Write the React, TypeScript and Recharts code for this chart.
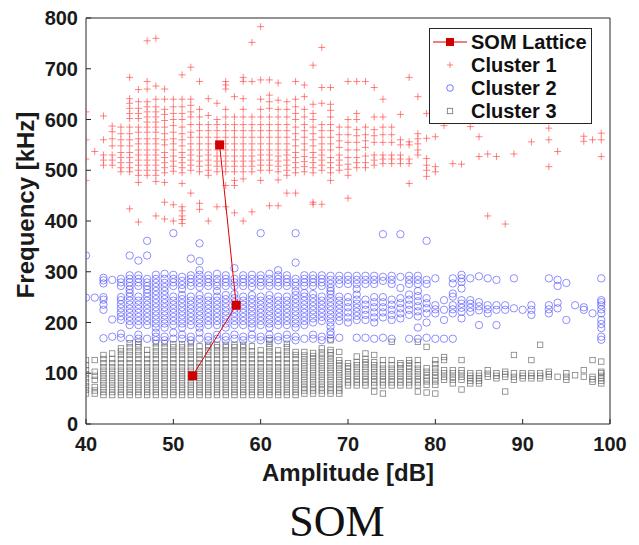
import React from "react";
import {
  ScatterChart,
  Scatter,
  XAxis,
  YAxis,
  Legend,
  Label,
} from "recharts";

type Column = [number, number[]];

// amplitude [dB] -> frequencies [kHz]
const cluster1Cols: Column[] = [
  [40, [480, 522, 560, 615]],
  [41, [537]],
  [42, [510, 520, 530, 560, 607]],
  [43, [510, 520, 530, 548, 562, 576, 587]],
  [44, [497, 505, 515, 525, 535, 548, 560, 572, 585]],
  [45, [424, 497, 505, 515, 525, 535, 548, 560, 572, 585, 602, 612, 622, 632, 641, 683]],
  [46, [398, 476, 490, 500, 510, 520, 530, 540, 552, 562, 575, 585, 602, 612, 622, 635, 659]],
  [47, [490, 500, 510, 520, 530, 540, 552, 562, 575, 585, 595, 605, 615, 625, 635, 660, 675, 755]],
  [48, [410, 478, 490, 500, 510, 520, 530, 540, 552, 562, 575, 585, 595, 605, 615, 625, 640, 666, 760]],
  [49, [404, 437, 476, 495, 505, 515, 525, 535, 550, 560, 572, 585, 598, 610, 620, 640, 660]],
  [50, [400, 432, 498, 508, 518, 528, 540, 552, 562, 575, 588, 600, 612, 625, 640]],
  [51, [395, 403, 410, 420, 428, 474, 495, 505, 515, 525, 535, 548, 560, 572, 585, 600, 612, 625, 640, 688]],
  [52, [455, 500, 510, 520, 530, 540, 552, 565, 575, 590, 605, 615, 628, 640, 703]],
  [53, [423, 435, 497, 508, 518, 528, 540, 552, 565, 578, 590, 605, 620, 675]],
  [54, [400, 490, 500, 510, 520, 530, 540, 552, 565, 578, 590, 608, 641]],
  [55, [428, 497, 508, 518, 528, 540, 552, 565, 578, 590, 600, 632]],
  [56, [428, 470, 497, 508, 518, 528, 540, 552, 565, 578, 590, 605, 620, 660, 668, 675]],
  [57, [416, 470, 480, 497, 508, 518, 528, 540, 552, 565, 578, 590, 605, 645]],
  [58, [400, 483, 497, 508, 518, 528, 540, 552, 565, 578, 590, 605, 620, 641, 675, 683]],
  [59, [418, 497, 508, 518, 528, 540, 552, 565, 578, 590, 605, 675, 752]],
  [60, [480, 500, 510, 520, 530, 540, 552, 565, 578, 590, 605, 620, 640, 678, 783]],
  [61, [430, 500, 510, 520, 530, 540, 552, 565, 578, 590, 605, 622, 635, 648, 678]],
  [62, [430, 481, 497, 508, 518, 528, 540, 552, 565, 578, 590, 605, 620, 638, 672]],
  [63, [455, 490, 500, 510, 520, 530, 540, 552, 565, 578, 590, 605, 620, 635]],
  [64, [455, 495, 505, 515, 525, 535, 548, 560, 572, 585, 600, 612, 625, 640, 675]],
  [65, [497, 507, 517, 527, 540, 552, 565, 578, 590, 605, 620, 645, 668]],
  [66, [433, 437, 495, 505, 515, 525, 535, 548, 560, 572, 585, 600, 612, 630, 707]],
  [67, [433, 500, 510, 520, 530, 540, 552, 565, 578, 590, 632, 663, 742]],
  [68, [480, 495, 505, 515, 525, 540, 552, 565, 578, 590, 605, 618, 630, 663]],
  [69, [500, 510, 520, 530, 545, 558, 570, 585]],
  [70, [445, 490, 502, 512, 525, 540, 555, 570, 585, 600, 675]],
  [71, [505, 515, 525, 540, 555, 568, 580, 600, 612, 675]],
  [72, [505, 515, 528, 545, 558, 570, 585, 675]],
  [73, [510, 520, 530, 555, 568, 580, 605, 663]],
  [74, [513, 522, 530, 555, 570, 585, 605, 640]],
  [75, [513, 522, 530, 555, 570, 585]],
  [76, [513, 522, 530, 550, 560, 610]],
  [77, [474, 513, 522, 550, 556, 683]],
  [78, [530, 540, 552, 562, 572, 645]],
  [79, [488, 500, 510, 523, 563, 612]],
  [80, [497, 507, 566]],
  [81, [588]],
  [82, [513]],
  [83, [512]],
  [84, [586]],
  [85, [527, 566]],
  [86, [410, 532]],
  [87, [527]],
  [88, [394]],
  [89, [532]],
  [91, [556]],
  [93, [507, 560, 583]],
  [94, [537]],
  [97, [557, 567]],
  [98, [560]],
  [99, [527, 560, 573]],
];

const cluster2Cols: Column[] = [
  [40, [249, 332]],
  [41, [249]],
  [42, [169, 225, 235, 245, 250, 277, 283, 288]],
  [43, [172, 206, 284]],
  [44, [170, 178, 205, 212, 220, 228, 236, 244, 250, 272, 279, 286]],
  [45, [168, 195, 203, 211, 219, 227, 235, 243, 251, 258, 265, 272, 279, 286, 293, 332]],
  [46, [168, 176, 195, 203, 211, 219, 227, 235, 243, 251, 272, 279, 286, 293, 322]],
  [47, [168, 195, 203, 211, 219, 227, 235, 243, 251, 258, 265, 272, 279, 286, 332, 361]],
  [48, [165, 172, 180, 190, 198, 206, 214, 222, 230, 238, 246, 254, 262, 270, 278, 286, 294]],
  [49, [165, 172, 190, 198, 206, 214, 222, 230, 238, 246, 254, 262, 270, 278, 286, 296]],
  [50, [168, 180, 195, 203, 211, 219, 227, 235, 243, 251, 272, 279, 286, 294, 376]],
  [51, [168, 176, 190, 198, 206, 214, 222, 230, 238, 246, 254, 266, 274, 282, 290]],
  [52, [165, 172, 195, 203, 211, 219, 227, 235, 243, 251, 272, 279, 286, 293, 326]],
  [53, [168, 180, 190, 198, 206, 214, 222, 230, 238, 246, 254, 270, 278, 286, 294, 303, 321, 356]],
  [54, [165, 172, 195, 203, 211, 219, 227, 235, 243, 251, 272, 279, 286, 293]],
  [55, [168, 176, 195, 203, 211, 219, 227, 235, 243, 251, 262, 272, 279, 286, 296]],
  [56, [165, 172, 190, 198, 206, 214, 222, 230, 238, 246, 254, 272, 279, 286, 293]],
  [57, [168, 176, 195, 203, 211, 219, 227, 240, 248, 256, 272, 279, 286, 307]],
  [58, [165, 172, 195, 203, 211, 219, 227, 235, 243, 251, 272, 279, 286, 293]],
  [59, [168, 176, 190, 198, 206, 214, 222, 230, 238, 246, 254, 270, 278, 286, 294]],
  [60, [165, 172, 195, 203, 211, 219, 227, 235, 243, 251, 272, 279, 286, 293, 376]],
  [61, [168, 176, 190, 198, 206, 214, 222, 230, 238, 246, 254, 272, 279, 286, 296]],
  [62, [165, 172, 195, 203, 211, 219, 227, 235, 243, 251, 272, 279, 286, 293, 303]],
  [63, [168, 176, 195, 203, 211, 219, 227, 235, 243, 251, 272, 279, 286, 293]],
  [64, [165, 172, 190, 198, 206, 214, 222, 230, 238, 246, 254, 262, 272, 279, 286, 318, 376]],
  [65, [168, 195, 203, 211, 219, 227, 235, 243, 251, 258, 272, 279, 286, 293]],
  [66, [168, 176, 200, 208, 216, 224, 232, 240, 248, 256, 272, 279, 286, 293]],
  [67, [165, 172, 203, 211, 219, 227, 235, 243, 251, 272, 279, 286, 293]],
  [68, [168, 176, 182, 192, 200, 208, 216, 224, 232, 240, 248, 256, 262, 268, 276, 284, 292]],
  [69, [170, 203, 211, 219, 227, 235, 243, 251, 276, 284, 292]],
  [70, [200, 210, 220, 230, 240, 250, 276, 284, 292]],
  [71, [170, 205, 213, 221, 229, 237, 245, 255, 266, 276, 284, 292]],
  [72, [170, 205, 215, 225, 235, 245, 276, 284, 292]],
  [73, [168, 200, 210, 220, 230, 240, 250, 276, 284, 292]],
  [74, [170, 210, 220, 230, 240, 250, 282, 290, 374]],
  [75, [168, 205, 215, 225, 235, 245, 276, 284, 292]],
  [76, [208, 218, 228, 238, 248, 268, 290, 374]],
  [77, [168, 215, 225, 235, 245, 255, 276, 284, 292]],
  [78, [168, 190, 212, 222, 232, 242, 252, 262, 276, 284, 292]],
  [79, [170, 200, 218, 228, 238, 248, 276, 284, 361]],
  [80, [168, 218, 226, 234, 287]],
  [81, [168, 205, 225, 244]],
  [82, [168, 218, 226, 234, 251, 257, 277, 287]],
  [83, [208, 221, 229, 237, 244, 267, 280, 287, 294]],
  [84, [221, 229, 237, 244, 287]],
  [85, [195, 224, 232, 240, 291]],
  [86, [218, 226, 234, 287]],
  [87, [195, 225, 234, 284]],
  [88, [225, 234]],
  [89, [228, 287]],
  [90, [225]],
  [91, [215, 225, 234]],
  [93, [218, 226, 234, 287]],
  [94, [228, 239, 272, 284]],
  [95, [205, 278]],
  [96, [234]],
  [97, [225, 230]],
  [98, [218]],
  [99, [166, 172, 189, 197, 205, 218, 226, 234, 240, 244, 287]],
];

const cluster3Cols: Column[] = [
  [40, [60, 67, 74, 82, 90, 98, 106, 116, 126]],
  [41, [60, 66, 73, 87, 95, 103, 126]],
  [42, [57, 63, 70, 77, 84, 91, 98, 105, 112, 120, 128, 136]],
  [43, [57, 63, 70, 77, 84, 91, 98, 105, 112, 120, 128, 139]],
  [44, [57, 63, 70, 77, 84, 91, 98, 105, 112, 120, 128, 136, 143, 149]],
  [45, [57, 63, 70, 77, 84, 91, 98, 105, 112, 120, 128, 136, 143, 151, 159]],
  [46, [57, 63, 70, 77, 84, 91, 98, 105, 112, 120, 128, 136, 143, 151, 157, 162]],
  [47, [57, 63, 70, 77, 84, 91, 98, 105, 112, 120, 128, 136, 146]],
  [48, [57, 63, 70, 77, 84, 91, 98, 105, 112, 120, 128, 136, 143, 151, 159]],
  [49, [57, 63, 70, 77, 84, 91, 98, 105, 112, 120, 128, 136, 143, 151, 159]],
  [50, [57, 63, 70, 77, 84, 91, 98, 105, 112, 120, 128, 136, 143, 151, 157]],
  [51, [57, 63, 70, 77, 84, 91, 98, 105, 112, 120, 128, 136, 143, 151, 157]],
  [52, [57, 63, 70, 77, 84, 91, 98, 105, 112, 120, 128, 136, 143, 151, 159]],
  [53, [57, 63, 70, 77, 84, 91, 98, 105, 112, 120, 128, 136, 143, 153]],
  [54, [57, 63, 70, 77, 84, 91, 98, 105, 112, 120, 128, 136, 143, 151, 156]],
  [55, [57, 63, 70, 77, 84, 91, 98, 105, 112, 120, 128, 136, 143, 151, 156]],
  [56, [57, 63, 70, 77, 84, 91, 98, 105, 112, 120, 128, 136, 143, 151, 156]],
  [57, [57, 63, 70, 77, 84, 91, 98, 105, 112, 120, 128, 136, 143, 151, 156]],
  [58, [57, 63, 70, 77, 84, 91, 98, 105, 112, 120, 128, 136, 143, 151, 156]],
  [59, [57, 63, 70, 77, 84, 91, 98, 105, 112, 120, 128, 136, 143, 153]],
  [60, [57, 63, 70, 77, 84, 91, 98, 105, 112, 120, 128, 136, 145]],
  [61, [57, 63, 70, 77, 84, 91, 98, 105, 112, 120, 128, 136, 143, 151, 158, 165]],
  [62, [57, 63, 70, 77, 84, 91, 98, 105, 112, 120, 128, 136, 145]],
  [63, [57, 63, 70, 77, 84, 91, 98, 105, 112, 120, 128, 136, 143, 151, 158]],
  [64, [57, 63, 70, 77, 84, 91, 98, 105, 112, 120, 128, 136, 142]],
  [65, [60, 66, 72, 79, 86, 93, 100, 107, 114, 121, 128, 135, 142]],
  [66, [60, 66, 72, 79, 86, 93, 100, 107, 114, 121, 128, 134, 140]],
  [67, [60, 66, 72, 79, 86, 93, 100, 107, 114, 121, 128, 135, 141, 149]],
  [68, [60, 66, 72, 79, 86, 93, 100, 107, 114, 121, 128, 135, 141, 146, 165]],
  [69, [60, 66, 72, 79, 86, 93, 100, 107, 114, 120, 126, 142]],
  [70, [76, 82, 88, 95, 102, 109, 114, 120]],
  [71, [76, 82, 88, 95, 102, 109, 116, 122, 133]],
  [72, [76, 82, 88, 95, 102, 109, 116, 122, 128, 139]],
  [73, [64, 76, 82, 88, 95, 102, 109, 116, 122, 136]],
  [74, [60, 76, 82, 88, 95, 102, 109, 116, 126]],
  [75, [76, 82, 88, 95, 102, 109, 116, 126, 162]],
  [76, [76, 82, 88, 95, 102, 109, 116, 120]],
  [77, [76, 82, 88, 95, 102, 109, 114, 120, 126]],
  [78, [64, 76, 82, 88, 95, 102, 109, 116, 126, 162]],
  [79, [62, 77, 84, 90, 96, 103, 110, 152]],
  [80, [60, 77, 84, 90, 96, 103, 110, 118, 126]],
  [81, [87, 93, 100, 106, 126, 132]],
  [82, [80, 87, 93, 100, 106]],
  [83, [68, 87, 93, 100, 106, 126]],
  [84, [80, 85, 90, 95, 100]],
  [85, [80, 85, 90, 95, 100]],
  [86, [93, 99, 106]],
  [87, [90, 95, 100]],
  [88, [64, 93, 98, 103]],
  [89, [87, 93, 100, 136]],
  [90, [90, 95, 100]],
  [91, [90, 95, 100, 126]],
  [92, [90, 95, 100, 156]],
  [93, [93, 98, 103]],
  [94, [93]],
  [95, [87, 93, 100]],
  [96, [96]],
  [97, [93, 106]],
  [98, [83, 88, 93, 126]],
  [99, [80, 85, 90, 95, 100, 103, 123]],
];

// SOM lattice nodes, in the order the line joins them
const somX = [55.3, 57.2, 52.2];
const somY = [550, 234, 95];

const xTicks = [40, 50, 60, 70, 80, 90, 100];
const yTicks = [0, 100, 200, 300, 400, 500, 600, 700, 800];

const toPoints = (cols: Column[]) =>
  cols.flatMap(([x, ys]) => ys.map((y) => ({ x, y })));

const cluster1 = toPoints(cluster1Cols);
const cluster2 = toPoints(cluster2Cols);
const cluster3 = toPoints(cluster3Cols);
const som = somX.map((x, i) => ({ x, y: somY[i] }));

const FONT = "'Liberation Sans', Arial, sans-serif";
const AXIS = "#262626";

const PlusMark = (p: any) => (
  <path
    d={`M${p.cx - 3.5},${p.cy}h7M${p.cx},${p.cy - 3.5}v7`}
    stroke="#ff3b3b"
    strokeWidth={0.9}
    strokeOpacity={0.7}
    fill="none"
  />
);

const CircleMark = (p: any) => (
  <circle
    cx={p.cx}
    cy={p.cy}
    r={3.7}
    stroke="#4f4fff"
    strokeWidth={0.8}
    strokeOpacity={0.8}
    fill="none"
  />
);

const SquareMark = (p: any) => (
  <rect
    x={p.cx - 2.7}
    y={p.cy - 2.7}
    width={5.4}
    height={5.4}
    stroke="#6a6a6a"
    strokeWidth={0.8}
    strokeOpacity={0.85}
    fill="none"
  />
);

const SomMark = (p: any) => (
  <rect x={p.cx - 4.5} y={p.cy - 4.5} width={9} height={9} fill="#d00000" />
);

const legendText = {
  fontFamily: FONT,
  fontWeight: 700,
  fontSize: 20,
  fill: "#111",
} as const;

const LegendBox = () => (
  <svg width={164} height={97} style={{ display: "block" }}>
    <rect x={0.5} y={0.5} width={162} height={95} fill="#fff" stroke={AXIS} />
    <line x1={4} x2={38} y1={14} y2={14} stroke="#e00000" strokeWidth={1} />
    <rect x={17} y={10} width={8} height={8} fill="#d00000" />
    <text x={42} y={21} {...legendText}>SOM Lattice</text>
    <path d="M18,37h6M21,34v6" stroke="#ff3b3b" strokeWidth={0.9} strokeOpacity={0.7} />
    <text x={42} y={44} {...legendText}>Cluster 1</text>
    <circle cx={21} cy={60} r={3.3} stroke="#4f4fff" strokeWidth={0.8} fill="none" />
    <text x={42} y={67} {...legendText}>Cluster 2</text>
    <rect x={18.3} y={80.3} width={5.4} height={5.4} stroke="#707070" strokeWidth={0.8} fill="none" />
    <text x={42} y={90} {...legendText}>Cluster 3</text>
  </svg>
);

const tickStyle = { fontFamily: FONT, fontWeight: 700, fontSize: 20, fill: "#1a1a1a" };
const titleStyle = { ...tickStyle, fontSize: 24 };

export default function App() {
  return (
    <div style={{ position: "absolute", left: 0, top: 0, width: 639, height: 545, background: "#fff" }}>
      <ScatterChart
        width={639}
        height={545}
        margin={{ top: 17, right: 28, bottom: 91, left: 26 }}
      >
        <XAxis
          type="number"
          dataKey="x"
          domain={[40, 100]}
          ticks={xTicks}
          allowDataOverflow
          height={30}
          tickSize={-5}
          tickMargin={18}
          tick={tickStyle}
          stroke={AXIS}
        >
          <Label
            content={() => (
              <text x={348} y={481} textAnchor="middle" {...titleStyle}>
                Amplitude [dB]
              </text>
            )}
          />
        </XAxis>
        <XAxis
          xAxisId="top"
          orientation="top"
          type="number"
          dataKey="x"
          domain={[40, 100]}
          ticks={xTicks}
          allowDataOverflow
          height={1}
          tickSize={-5}
          tick={false}
          stroke={AXIS}
        />
        <YAxis
          type="number"
          dataKey="y"
          domain={[0, 800]}
          ticks={yTicks}
          allowDataOverflow
          width={60}
          tickSize={-5}
          tickMargin={13}
          tick={tickStyle}
          stroke={AXIS}
        >
          <Label
            content={() => (
              <text
                x={34}
                y={205}
                textAnchor="middle"
                transform="rotate(-90 34 205)"
                {...titleStyle}
              >
                Frequency [kHz]
              </text>
            )}
          />
        </YAxis>
        <YAxis
          yAxisId="right"
          orientation="right"
          type="number"
          dataKey="y"
          domain={[0, 800]}
          ticks={yTicks}
          allowDataOverflow
          width={1}
          tickSize={-5}
          tick={false}
          stroke={AXIS}
        />
        <Legend
          layout="vertical"
          align="center"
          verticalAlign="middle"
          content={() => <LegendBox />}
          wrapperStyle={{ position: "absolute", left: 429, top: 28, width: 164, height: 97 }}
        />
        <Scatter name="Cluster 3" data={cluster3} shape={SquareMark} isAnimationActive={false} legendType="none" />
        <Scatter name="Cluster 2" data={cluster2} shape={CircleMark} isAnimationActive={false} legendType="none" />
        <Scatter name="Cluster 1" data={cluster1} shape={PlusMark} isAnimationActive={false} legendType="none" />
        <Scatter
          name="SOM Lattice"
          data={som}
          shape={SomMark}
          line={{ stroke: "#e00000", strokeWidth: 1 }}
          isAnimationActive={false}
          legendType="none"
        />
      </ScatterChart>
      <div
        style={{
          position: "absolute",
          left: 0,
          top: 500,
          width: 674,
          textAlign: "center",
          fontFamily: "'Liberation Serif', 'Times New Roman', serif",
          fontSize: 44,
          lineHeight: "44px",
          color: "#111",
        }}
      >
        SOM
      </div>
    </div>
  );
}
